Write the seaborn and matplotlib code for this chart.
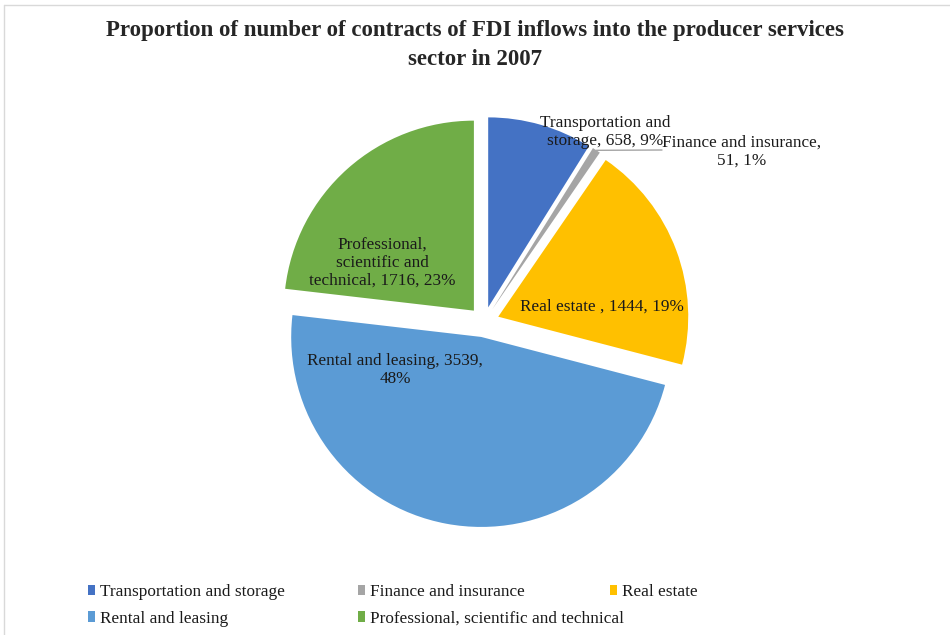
import matplotlib
matplotlib.use("Agg")
import matplotlib.pyplot as plt
import seaborn as sns
import numpy as np
from matplotlib.patches import Patch
from matplotlib.lines import Line2D

categories = ["Transportation and storage", "Finance and insurance", "Real estate",
              "Rental and leasing", "Professional, scientific and technical"]
values = [658, 51, 1444, 3539, 1716]
label_texts = ["Transportation and\nstorage, 658, 9%", "Finance and insurance,\n51, 1%",
               "Real estate , 1444, 19%", "Rental and leasing, 3539,\n48%",
               "Professional,\nscientific and\ntechnical, 1716, 23%"]
colors = ["#4472C4", "#A5A5A5", "#FFC000", "#5B9BD5", "#70AD47"]
title = "Proportion of number of contracts of FDI inflows into the producer services\nsector in 2007"

sns.set_theme(style="white")
plt.rcParams['font.family'] = ['Liberation Serif', 'DejaVu Serif']

W, H = 950, 635
fig = plt.figure(figsize=(W / 100, H / 100), dpi=100)

# pie placement (pixels)
cx, cy, R = 484, 322, 190
lim = 1.2
half = lim * R
ax = fig.add_axes([(cx - half) / W, (H - cy - half) / H, 2 * half / W, 2 * half / H])
palette = sns.color_palette(colors)
wedges, _ = ax.pie(values, colors=palette, startangle=90, counterclock=False,
                   explode=[0.08] * len(values), radius=1.0,
                   wedgeprops=dict(linewidth=0))
ax.set_xlim(-lim, lim)
ax.set_ylim(-lim, lim)
ax.set_aspect("equal")
ax.axis("off")

def px2d(px, py):
    return (px - cx) / R, (cy - py) / R

label_pos = [(605, 132), (742, 152), (602, 307), (395, 370), (382, 263)]
fs = 12.4
for txt, (px, py) in zip(label_texts, label_pos):
    x, y = px2d(px, py)
    ax.text(x, y, txt, ha="center", va="center", fontsize=fs, color="#1a1a1a",
            linespacing=1.17)

# leader line for finance label from wedge edge
w = wedges[1]
ang = np.deg2rad((w.theta1 + w.theta2) / 2)
c = w.center
sx, sy = c[0] + np.cos(ang) * 1.0, c[1] + np.sin(ang) * 1.0
ex, ey = px2d(662, 150)
ax.plot([sx, ex], [sy, ey], color="#A5A5A5", lw=1.0)

fig.text(0.5, 1 - 45 / H, title, ha="center", va="center", fontsize=16.5,
         fontweight="bold", linespacing=1.45)

# legend: three columns
cols = [([0, 3], 88), ([1, 4], 358), ([2], 610)]
for idxs, xpx in cols:
    handles = [Patch(facecolor=colors[i], edgecolor="none") for i in idxs]
    leg = fig.legend(handles, [categories[i] for i in idxs], loc="upper left",
                     bbox_to_anchor=(xpx / W, 1 - 584 / H), frameon=False,
                     fontsize=fs, handlelength=0.4, handleheight=0.55,
                     handletextpad=0.3, labelspacing=0.62, borderpad=0,
                     borderaxespad=0)
    for t in leg.get_texts():
        t.set_color("#1a1a1a")

# chart area border (top and left visible)
fig.add_artist(Line2D([4 / W, 1], [1 - 5 / H, 1 - 5 / H], color="#D9D9D9", lw=1))
fig.add_artist(Line2D([4 / W, 4 / W], [0, 1 - 5 / H], color="#D9D9D9", lw=1))

fig.savefig("out.png", dpi=100, facecolor="white")
